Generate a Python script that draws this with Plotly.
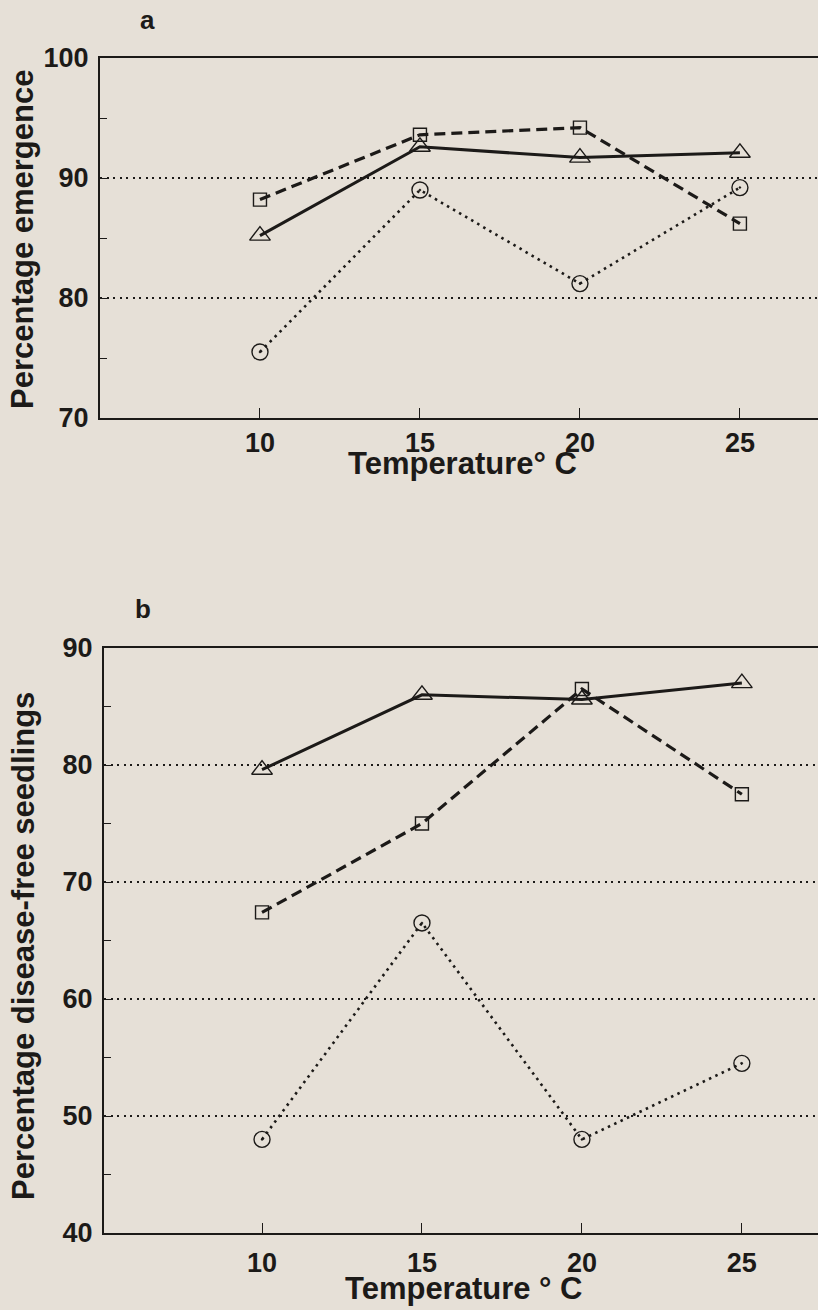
import plotly.graph_objects as go

temps = [10, 15, 20, 25]

# Panel a: Percentage emergence
a_square = [88.2, 93.6, 94.2, 86.2]
a_triangle = [85.2, 92.6, 91.7, 92.1]
a_circle = [75.5, 89.0, 81.2, 89.2]

# Panel b: Percentage disease-free seedlings
b_triangle = [79.6, 86.0, 85.6, 87.0]
b_square = [67.4, 75.0, 86.5, 77.5]
b_circle = [48.0, 66.5, 48.0, 54.5]

a_yticks = [70, 80, 90, 100]
b_yticks = [40, 50, 60, 70, 80, 90]
xticks = [10, 15, 20, 25]

BG = "#e6e0d7"
INK = "#1c1a18"
FONT = "Liberation Sans"

W, H = 818, 1310

fig = go.Figure()

def add_series(x, y, xa, ya, dash, width, symbol, size):
    fig.add_trace(go.Scatter(
        x=x, y=y, xaxis=xa, yaxis=ya, mode="lines+markers",
        line=dict(color=INK, width=width, dash=dash),
        marker=dict(symbol=symbol, size=size, color=INK,
                    line=dict(color=INK, width=1.4)),
        showlegend=False, cliponaxis=False))

# panel a
add_series(temps, a_circle, "x", "y", "2.5px,4.5px", 2.6, "circle-open-dot", 16)
add_series(temps, a_square, "x", "y", "11px,6px", 3.2, "square-open", 13)
add_series(temps, a_triangle, "x", "y", "solid", 3, "triangle-up-open", 18)
# panel b
add_series(temps, b_circle, "x2", "y2", "2.5px,4.5px", 2.6, "circle-open-dot", 16)
add_series(temps, b_square, "x2", "y2", "11px,6px", 3.2, "square-open", 13)
add_series(temps, b_triangle, "x2", "y2", "solid", 3, "triangle-up-open", 18)

tickfont = dict(family=FONT, size=27, color=INK, weight="bold")

def xaxis(domain, rng, standoff):
    return dict(domain=domain, range=rng, tickvals=xticks, ticks="inside",
                ticklen=10, tickwidth=1.2, tickcolor=INK, showgrid=False,
                zeroline=False, showline=True, linecolor=INK, linewidth=2,
                mirror=True, tickfont=tickfont, ticklabelstandoff=standoff,
                automargin=False, fixedrange=True)

def yaxis(domain, rng, tv, anchor):
    return dict(domain=domain, range=rng, tickvals=tv, ticks="inside",
                ticklen=7, tickwidth=1.2, tickcolor=INK,
                showgrid=True, griddash="2px,4.5px", gridcolor=INK, gridwidth=2,
                zeroline=False, showline=True, linecolor=INK, linewidth=2,
                mirror=False, tickfont=tickfont, ticklabelstandoff=4,
                minor=dict(dtick=5, tick0=0, ticks="inside", ticklen=7,
                           tickwidth=1.2, tickcolor=INK, showgrid=False),
                anchor=anchor, automargin=False, fixedrange=True)

fig.update_layout(
    width=W, height=H, margin=dict(l=0, r=0, t=0, b=0, pad=0),
    paper_bgcolor=BG, plot_bgcolor=BG,
    xaxis=xaxis([100 / W, 1.0], [5.0, 27.44], 0),
    yaxis=yaxis([1 - 418 / H, 1 - 58 / H], [70, 100], a_yticks, "x"),
    xaxis2=dict(xaxis([104 / W, 1.0], [5.06, 27.38], 5), anchor="y2"),
    yaxis2=yaxis([1 - 1233 / H, 1 - 648 / H], [40, 90], b_yticks, "x2"),
)

def ann(text, x, y, rot=0, size=30):
    fig.add_annotation(text=text, xref="paper", yref="paper",
                       x=x / W, y=1 - y / H, showarrow=False, textangle=rot,
                       xanchor="center", yanchor="middle",
                       font=dict(family=FONT, size=size, color=INK, weight="bold"))

ann("a", 147, 20, size=26)
ann("b", 143, 609, size=26)
ann("Percentage emergence", 23, 240, rot=-90, size=31)
ann("Percentage disease-free seedlings", 23, 946, rot=-90, size=31)
ann("Temperature° C", 462, 463, size=31)
ann("Temperature ° C", 464, 1288, size=31)

fig.write_html("out.html")
